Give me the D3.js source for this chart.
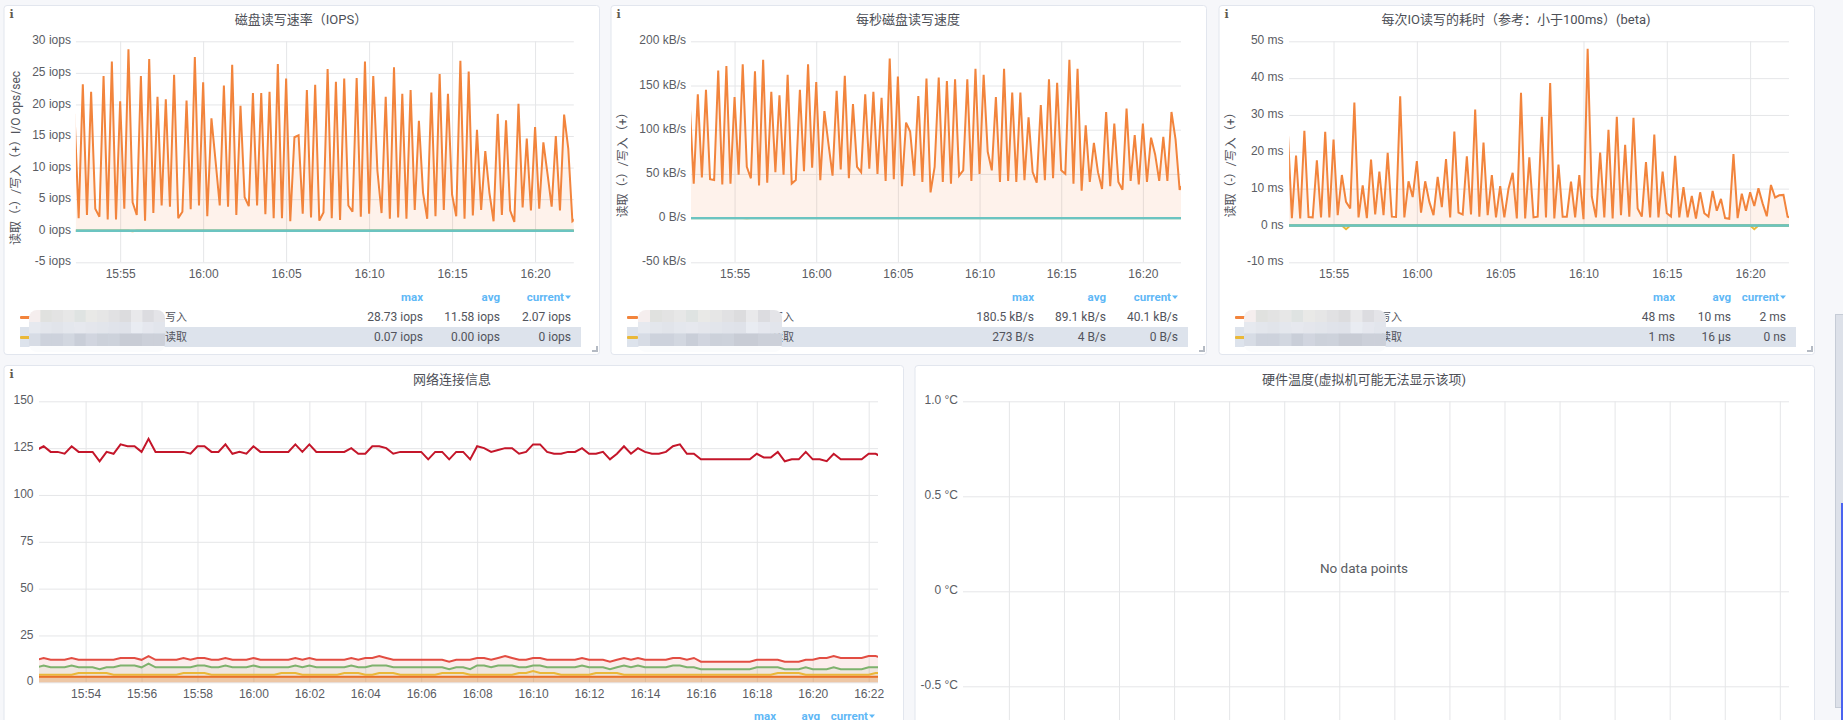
<!DOCTYPE html>
<html>
<head>
<meta charset="utf-8">
<title>Dashboard</title>
<script src="https://cdn.jsdelivr.net/npm/d3@7/dist/d3.min.js"></script>
<style>
  html, body { margin: 0; padding: 0; background: #f6f7fa; overflow: hidden; }
  svg { display: block; font-family: Roboto, "Noto Sans CJK SC", sans-serif; }
  .tick text { fill: #5a5c63; font-size: 12px; }
  .tick line { stroke: #e5e6e8; stroke-width: 1; }
  .domain { display: none; }
</style>
</head>
<body>
<svg id="board" width="1843" height="720"></svg>
<script>
// Samples are 15 s apart, starting just before the visible window.
const SAMPLE_START = new Date(2021, 0, 1, 15, 52, 15);
const WINDOW = [new Date(2021, 0, 1, 15, 52, 20), new Date(2021, 0, 1, 16, 22, 20)];

const iopsWrite = [
  18.5,2,23.2,2.5,22,3.5,2.2,24.5,1.8,26.8,
  1.8,20.5,3.5,28.73,4.5,2.5,24.5,1.6,27.2,2.8,
  21.2,4,20.8,3.8,24.7,2,3,20.6,3.4,27.5,
  4,23.5,2.3,17.8,11,4,23,3.8,26.3,2.5,
  19.8,5.3,3.9,21.8,4,21.8,2.6,22,2,26.4,
  2,24.1,1.5,14.8,15.1,2.7,22.3,2.1,23.1,1.6,
  2.9,25.6,2,23.6,1.7,24.1,4,3,24.2,2.2,
  26.8,2.7,24.5,9.5,2.8,21.2,1.9,25.9,2.1,21.7,
  1.9,22.3,3.3,17.4,6,1.9,21.9,2.3,24.8,3.3,
  21.7,5.7,2.3,26.9,1.9,25.2,2.4,16,3.3,12.6,
  6,1.5,18.5,2.5,17.5,3.2,1.4,20.1,3.7,14.6,
  3.2,16.4,3.5,14,9,3.8,15,3.2,18.4,13,
  1.5,2.07
];
const iopsReadSpikes = [[14, -0.07]];

const bytesWrite = [
  131,39,140,46,145,44,43,167,38,172,
  39,137,49,174,58,45,166,37,179,40,
  143,52,139,49,162,39,43,145,53,174,
  57,154,43,121,84,48,144,55,161,45,
  129,58,52,140,56,143,50,136,42,180.5,
  44,160,36,108,98,48,138,41,158,29,
  58,159,41,155,39,157,48,54,157,42,
  169,50,162,75,54,137,41,169,42,142,
  41,142,43,114,52,40,128,43,157,45,
  153,54,50,179,39,169,31,105,41,85,
  52,33,120,36,107,41,32,124,42,94,
  38,107,41,91,72,42,92,42,120,89,
  32,40.1
];
const bytesReadSpikes = [[14, -0.273]];

const latencyWrite = [
  26.3,2,19,1.9,25.7,2.3,2.2,17.7,2.2,25.4,
  2.2,23.3,2.8,13.7,6.4,4.6,33.4,2.2,10.9,2,
  17.9,3,14.6,2.8,19.7,2.4,2.3,35.1,2.2,12,
  7.7,17.5,3.5,12,6.4,2.8,13.2,5,18,2.2,
  25.5,3.5,3,18.8,3,31.5,2.4,22.5,2.8,13.7,
  2.2,10.7,2.2,10,14.3,1.9,36,1.9,18.5,2.2,
  2.4,29.5,2.2,38.7,1.9,16.5,2.4,2.4,11.9,2.2,
  13.7,1.7,48,7.8,2.2,19.8,2.2,26,1.9,29.5,
  2.8,21.9,2.4,29.2,4.6,2.4,17.2,2.2,24.7,2.2,
  14.6,3.3,2.4,18.9,2.2,10.4,2.2,8,1.9,9,
  3.3,2.4,9.4,4,7.2,2,1.8,19.4,2,8.6,
  4,9,5.3,10.1,6,2.5,11,7.6,8.2,8.3,
  2.4,2
];
const latencyReadSpikes = [[14, -1], [112, -1]];

const connTotal = [
  124,126,123,123,122,126,123,123,123,118,
  123,122,127,126,126,123,130,123,123,123,
  123,123,122,126,126,123,123,127,122,123,
  122,126,123,123,123,123,123,127,123,127,
  123,123,123,123,123,125,122,122,126,126,
  125,122,123,123,123,123,119,123,123,119,
  123,123,119,126,125,123,124,125,125,122,
  123,127,127,123,122,122,123,123,125,122,
  122,123,119,122,126,122,125,123,122,122,
  123,126,127,122,122,119,119,119,119,119,
  119,119,119,122,120,120,123,118,119,119,
  123,119,119,118,122,119,119,119,119,122,
  122,120
];
const connEstablished = [
  12,13,12,12,12,13,12,12,12,12,
  12,12,13,13,13,12,14,12,12,12,
  12,13,12,13,13,12,12,13,12,12,
  12,13,12,12,12,12,12,13,12,13,
  12,12,12,12,12,13,12,13,13,14,
  13,12,12,12,12,12,12,12,12,11,
  12,12,12,13,13,12,13,14,13,12,
  12,13,13,12,12,12,12,12,13,12,
  12,12,11,12,13,12,13,12,12,12,
  12,13,13,12,13,11,11,11,11,11,
  11,11,11,12,12,12,12,11,11,11,
  12,12,13,13,14,13,13,13,13,14,
  14,13
];
const connListen = [
  8,9,8,8,8,9,8,8,8,7,
  8,8,9,9,9,8,10,8,8,8,
  8,8,8,9,9,8,8,9,8,8,
  8,9,8,8,8,8,8,9,8,9,
  8,8,8,8,8,9,8,8,9,9,
  9,8,8,8,8,8,8,8,8,7,
  8,8,7,9,9,8,9,9,9,8,
  8,9,9,8,8,8,8,8,9,8,
  8,8,7,8,9,8,9,8,8,8,
  8,9,9,8,8,7,7,7,7,7,
  7,7,7,8,8,8,8,7,7,7,
  8,7,7,7,8,7,7,7,7,8,
  8,8
];
const connTimeWait = [
  4,4,4,4,4,4,5,5,5,5,
  5,4,4,4,4,4,4,4,4,4,
  4,5,5,5,5,4,4,4,4,4,
  4,4,4,4,4,5,5,5,4,4,
  4,4,4,4,5,5,5,4,4,5,
  5,5,4,4,4,4,4,4,5,5,
  5,5,4,4,4,4,4,4,4,5,
  5,6,5,5,5,4,4,4,4,4,
  5,5,5,5,4,4,4,4,4,4,
  4,4,4,4,4,4,4,4,4,4,
  4,4,4,4,4,4,5,5,5,5,
  4,4,4,4,4,4,4,4,4,4,
  5,5
];
const connCloseWait = [
  3,3,3,3,3,3,3,3,3,3,3,3,3,3,3,3,3,3,3,3,
  3,3,3,3,3,3,3,3,3,3,3,3,3,3,3,3,3,3,3,3,
  3,3,3,3,3,3,3,3,3,3,3,3,3,3,3,3,3,3,3,3,
  3,3,3,3,3,3,3,3,3,3,3,3,3,3,3,3,3,3,3,3,
  3,3,3,3,3,3,3,3,3,3,3,3,3,3,3,3,3,3,3,3,
  3,3,3,3,3,3,3,3,3,3,3,3,3,3,3,3,3,3,3,3,
  3,3
];

const ticksFiveMin = ["15:55", "16:00", "16:05", "16:10", "16:15", "16:20"];
const ticksTwoMin = ["15:54", "15:56", "15:58", "16:00", "16:02", "16:04", "16:06", "16:08",
  "16:10", "16:12", "16:14", "16:16", "16:18", "16:20", "16:22"];

const iopsTicks = [-5, 0, 5, 10, 15, 20, 25, 30];
const iopsTickLabels = ["-5 iops", "0 iops", "5 iops", "10 iops", "15 iops", "20 iops", "25 iops", "30 iops"];
const bytesTicks = [-50, 0, 50, 100, 150, 200];
const bytesTickLabels = ["-50 kB/s", "0 B/s", "50 kB/s", "100 kB/s", "150 kB/s", "200 kB/s"];
const latencyTicks = [-10, 0, 10, 20, 30, 40, 50];
const latencyTickLabels = ["-10 ms", "0 ns", "10 ms", "20 ms", "30 ms", "40 ms", "50 ms"];
const connTicks = [0, 25, 50, 75, 100, 125, 150];
const tempTicks = [-0.5, 0, 0.5, 1];
const tempTickLabels = ["-0.5 °C", "0 °C", "0.5 °C", "1.0 °C"];

const iopsLegend = [["写入", "28.73 iops", "11.58 iops", "2.07 iops"], ["读取", "0.07 iops", "0.00 iops", "0 iops"]];
const bytesLegend = [["写入", "180.5 kB/s", "89.1 kB/s", "40.1 kB/s"], ["读取", "273 B/s", "4 B/s", "0 B/s"]];
const latencyLegend = [["写入", "48 ms", "10 ms", "2 ms"], ["读取", "1 ms", "16 μs", "0 ns"]];

// Pixelated patch laid over the host names in each legend.
const mosaicRows = [
  ["#f5eeee", "#e0e1df", "#e3e3e3", "#e7e7e7", "#dfe3e2", "#e9e9e7", "#e6e6e6", "#e1e1e3", "#dcdcde", "#e9e9eb", "#dcdce0", "#e4e4e8"],
  ["#e6e9ef", "#e3e6ec", "#e1e4ea", "#e4e7ed", "#e6e8ee", "#e4e6ec", "#e2e5eb", "#e0e3ea", "#dfe2e9", "#e9ecf2", "#e5e7ee", "#e2e5ec"],
  ["#d7dce5", "#cdd2dc", "#cdd2dc", "#d2d7e0", "#c9ced8", "#d1d5df", "#ccd1da", "#cdd2db", "#c8ccd5", "#c8ccd5", "#ccd0d9", "#ccd0d9"]
];

const COLORS = { write: "#f2843c", read: "#eab839", green: "#7eb26d", teal: "#65c9dd", crimson: "#c4162a", red: "#e24d42", deep: "#e8702a" };

const sampleTime = i => d3.timeSecond.offset(SAMPLE_START, i * 15);
const clock = d3.timeParse("%H:%M");
function tickDate(label) {
  const t = clock(label);
  return new Date(2021, 0, 1, t.getHours(), t.getMinutes());
}

const svg = d3.select("#board");
const defs = svg.append("defs");
let clipSerial = 0;

function drawPanel(p) {
  svg.append("rect")
    .attr("x", p.left + 0.5).attr("y", p.top + 0.5)
    .attr("width", p.right - p.left).attr("height", p.bottom - p.top)
    .attr("rx", 3).attr("fill", "#fff").attr("stroke", "#e2e6ee");
  svg.append("text")
    .attr("x", p.titleX).attr("y", p.top + 19)
    .attr("text-anchor", "middle").attr("font-size", 13).attr("fill", "#4d4f57")
    .text(p.title);
  if (p.info) {
    svg.append("text")
      .attr("x", p.left + 8).attr("y", p.top + 13)
      .attr("text-anchor", "middle")
      .attr("font-family", "DejaVu Serif").attr("font-weight", 700).attr("font-size", 11)
      .attr("fill", "#5f5a4e").text("i");
  }
}

function drawAxes(g, x, y, plot, xTicks, yTicks, yLabels, showTimes = true) {
  const width = plot.x1 - plot.x0;
  const height = plot.y1 - plot.y0;

  const yAxis = d3.axisLeft(y).tickValues(yTicks).tickSize(-width).tickPadding(plot.yPad)
    .tickFormat((d, i) => yLabels ? yLabels[i] : d);
  g.append("g").attr("transform", `translate(${plot.x0},0)`).call(yAxis)
    .selectAll("text").attr("dy", "0.22em");

  const xAxis = d3.axisBottom(x).tickValues(xTicks.map(tickDate)).tickSize(-height)
    .tickFormat(d3.timeFormat("%H:%M"));
  const ax = g.append("g").attr("transform", `translate(0,${plot.y1})`).call(xAxis);
  if (showTimes) {
    ax.selectAll("text").attr("y", 16).attr("dy", 0);
  } else {
    ax.selectAll("text").remove();
  }
}

function plotClip(plot) {
  const id = "plot-clip-" + (++clipSerial);
  defs.append("clipPath").attr("id", id).append("rect")
    .attr("x", plot.x0).attr("y", plot.y0 - 2)
    .attr("width", plot.x1 - plot.x0).attr("height", plot.y1 - plot.y0 + 4);
  return `url(#${id})`;
}

function drawSeries(g, x, y, values, color, opts = {}) {
  const t = (d, i) => x(sampleTime(i));
  if (opts.fill) {
    g.append("path").datum(values)
      .attr("fill", color).attr("fill-opacity", opts.fill)
      .attr("d", d3.area().x(t).y0(y(0)).y1(d => y(d)));
  }
  g.append("path").datum(values)
    .attr("fill", "none").attr("stroke", color)
    .attr("stroke-width", opts.width || 2)
    .attr("stroke-opacity", opts.opacity || 1)
    .attr("stroke-linejoin", "miter").attr("stroke-miterlimit", 3)
    .attr("d", d3.line().x(t).y(d => y(d)));
}

function caret(g, rightX, cy) {
  g.append("path")
    .attr("d", `M${rightX - 6},${cy - 2} h6 l-3,3.5 z`)
    .attr("fill", "#5fb8f6");
}

function legendHeader(g, cols, yPos) {
  ["max", "avg", "current"].forEach((name, i) => {
    g.append("text")
      .attr("x", i === 2 ? cols[i] - 7 : cols[i]).attr("y", yPos)
      .attr("text-anchor", "end").attr("font-size", 11.5).attr("font-weight", 700)
      .attr("fill", "#5fb8f6").text(name);
  });
  caret(g, cols[2], yPos - 3.5);
}

function drawLegend(g, lg, rows) {
  legendHeader(g, lg.cols, 301);
  g.append("rect")
    .attr("x", lg.x0).attr("y", 327).attr("width", lg.x1 - lg.x0).attr("height", 20)
    .attr("fill", "#dde3ec");
  const keyColors = [COLORS.write, COLORS.read];
  rows.forEach((row, r) => {
    const cy = 316 + r * 20;
    g.append("rect").attr("x", lg.x0).attr("y", cy).attr("width", 11).attr("height", 3)
      .attr("rx", 1).attr("fill", keyColors[r]);
    g.append("text").attr("x", lg.nameEnd).attr("y", cy + 5)
      .attr("text-anchor", "end").attr("font-size", 11).attr("fill", "#52545c").text(row[0]);
    lg.cols.forEach((cx, c) => {
      g.append("text").attr("x", cx).attr("y", cy + 5)
        .attr("text-anchor", "end").attr("font-size", 12).attr("fill", "#52545c").text(row[c + 1]);
    });
  });

  // Mosaic patch with a soft rounded outline.
  const id = "mosaic-clip-" + (++clipSerial);
  const mx = lg.maskX, mw = lg.maskW;
  defs.append("clipPath").attr("id", id).append("rect")
    .attr("x", mx).attr("y", 310).attr("width", mw).attr("height", 42).attr("rx", 8);
  const patch = g.append("g").attr("clip-path", `url(#${id})`);
  patch.append("rect").attr("x", mx).attr("y", 346).attr("width", mw).attr("height", 6).attr("fill", "#fbfcfd");
  const cw = mw / mosaicRows[0].length;
  const rowTop = [310, 322, 333.5];
  const rowH = [12, 11.5, 12.5];
  mosaicRows.forEach((cells, r) => {
    patch.selectAll(null).data(cells).join("rect")
      .attr("x", (d, i) => mx + i * cw).attr("y", rowTop[r])
      .attr("width", cw + 0.5).attr("height", rowH[r]).attr("fill", d => d);
  });
}

function readLine(spikes) {
  const line = iopsWrite.map(() => 0);
  spikes.forEach(([i, v]) => { line[i] = v; });
  return line;
}

function drawDiskPanel(p) {
  drawPanel(p);
  const g = svg.append("g");
  const plot = p.plot;
  const x = d3.scaleTime().domain(WINDOW).range([plot.x0, plot.x1]);
  const y = d3.scaleLinear().domain(p.domain).range([plot.y1, plot.y0]);
  drawAxes(g, x, y, plot, ticksFiveMin, p.ticks, p.tickLabels);

  const marks = g.append("g").attr("clip-path", plotClip(plot));
  drawSeries(marks, x, y, p.write, COLORS.write, { fill: 0.1 });
  const read = readLine(p.readSpikes);
  drawSeries(marks, x, y, read, COLORS.read, { width: 2 });
  const zero = read.map(() => 0);
  drawSeries(marks, x, y, zero, COLORS.green, { width: 2.4 });
  drawSeries(marks, x, y, zero, COLORS.teal, { width: 2.4, opacity: 0.75 });

  g.append("text")
    .attr("transform", `translate(${p.axisX},${p.axisY}) rotate(-90)`)
    .attr("text-anchor", "middle").attr("font-size", 12).attr("fill", "#52545c")
    .text(p.axisLabel);

  drawLegend(g, p.legend, p.legendRows);

  g.append("path")
    .attr("d", `M${p.right - 7},${p.bottom - 3} h5 v-5`)
    .attr("fill", "none").attr("stroke", "#b4bac3").attr("stroke-width", 2);
}

const upperBand = { y0: 41.3, y1: 262.3 };

drawDiskPanel({
  left: 3.5, right: 599, top: 5, bottom: 354, titleX: 301, info: true,
  title: "磁盘读写速率（IOPS）",
  plot: { x0: 75.9, x1: 573.8, ...upperBand, yPad: 5 },
  domain: [-5, 30], ticks: iopsTicks, tickLabels: iopsTickLabels,
  write: iopsWrite, readSpikes: iopsReadSpikes,
  axisX: 20, axisY: 158, axisLabel: "读取（-）/写入（+）I/O ops/sec",
  legend: { x0: 20, x1: 581, cols: [423, 500, 571], nameEnd: 187, maskX: 29, maskW: 136 },
  legendRows: iopsLegend
});

drawDiskPanel({
  left: 610.5, right: 1206, top: 5, bottom: 354, titleX: 908, info: true,
  title: "每秒磁盘读写速度",
  plot: { x0: 691, x1: 1181, ...upperBand, yPad: 5 },
  domain: [-50, 200], ticks: bytesTicks, tickLabels: bytesTickLabels,
  write: bytesWrite, readSpikes: bytesReadSpikes,
  axisX: 627, axisY: 162, axisLabel: "读取（-）/写入（+）",
  legend: { x0: 627, x1: 1188, cols: [1034, 1106, 1178], nameEnd: 794, maskX: 638, maskW: 144 },
  legendRows: bytesLegend
});

drawDiskPanel({
  left: 1218.5, right: 1814, top: 5, bottom: 354, titleX: 1516, info: true,
  title: "每次IO读写的耗时（参考：小于100ms）(beta)",
  plot: { x0: 1289.1, x1: 1789, ...upperBand, yPad: 5.5 },
  domain: [-10, 50], ticks: latencyTicks, tickLabels: latencyTickLabels,
  write: latencyWrite, readSpikes: latencyReadSpikes,
  axisX: 1235, axisY: 162, axisLabel: "读取（-）/写入（+）",
  legend: { x0: 1235, x1: 1796, cols: [1675, 1731, 1786], nameEnd: 1402, maskX: 1244, maskW: 142 },
  legendRows: latencyLegend
});

// Network connections panel, cut off by the bottom of the window.
(function () {
  const p = { left: 3.5, right: 903, top: 365, bottom: 760, titleX: 452, info: true, title: "网络连接信息" };
  drawPanel(p);
  const plot = { x0: 39, x1: 878, y0: 401.3, y1: 682.3, yPad: 5.5 };
  const g = svg.append("g");
  const x = d3.scaleTime().domain(WINDOW).range([plot.x0, plot.x1]);
  const y = d3.scaleLinear().domain([0, 150]).range([plot.y1, plot.y0]);
  drawAxes(g, x, y, plot, ticksTwoMin, connTicks, null);
  const marks = g.append("g").attr("clip-path", plotClip(plot));
  drawSeries(marks, x, y, connEstablished, COLORS.red, { fill: 0.1 });
  drawSeries(marks, x, y, connListen, COLORS.green, { fill: 0.1 });
  drawSeries(marks, x, y, connTimeWait, COLORS.read, { fill: 0.1 });
  drawSeries(marks, x, y, connCloseWait, COLORS.write, { fill: 0.15 });
  drawSeries(marks, x, y, connCloseWait, COLORS.deep, { fill: 0.12, width: 1.6 });
  drawSeries(marks, x, y, connTotal, COLORS.crimson);
  legendHeader(g, [776, 820, 875], 720);
})();

// Temperature panel: no samples were returned for this host.
// Its time labels fall below the bottom of the window, so only the grid is drawn.
(function () {
  const p = { left: 914.5, right: 1814, top: 365, bottom: 760, titleX: 1364, info: false, title: "硬件温度(虚拟机可能无法显示该项)" };
  drawPanel(p);
  const plot = { x0: 963, x1: 1789, y0: 401.3, y1: 781.3, yPad: 5 };
  const g = svg.append("g");
  const x = d3.scaleTime().domain(WINDOW).range([plot.x0, plot.x1]);
  const y = d3.scaleLinear().domain([-1, 1]).range([plot.y1, plot.y0]);
  drawAxes(g, x, y, plot, ticksTwoMin, tempTicks, tempTickLabels, false);
  g.append("text").attr("x", 1364).attr("y", 572.5)
    .attr("text-anchor", "middle").attr("font-size", 13.5).attr("fill", "#5a5c63")
    .text("No data points");
})();

// Page scrollbar on the far right.
svg.append("rect").attr("x", 1835.5).attr("y", 314.5).attr("width", 8).attr("height", 393)
  .attr("fill", "#dde1e9").attr("stroke", "#c6ccd6");
svg.append("rect").attr("x", 1841).attr("y", 503).attr("width", 2).attr("height", 217).attr("fill", "#4a63f0");
</script>
</body>
</html>
